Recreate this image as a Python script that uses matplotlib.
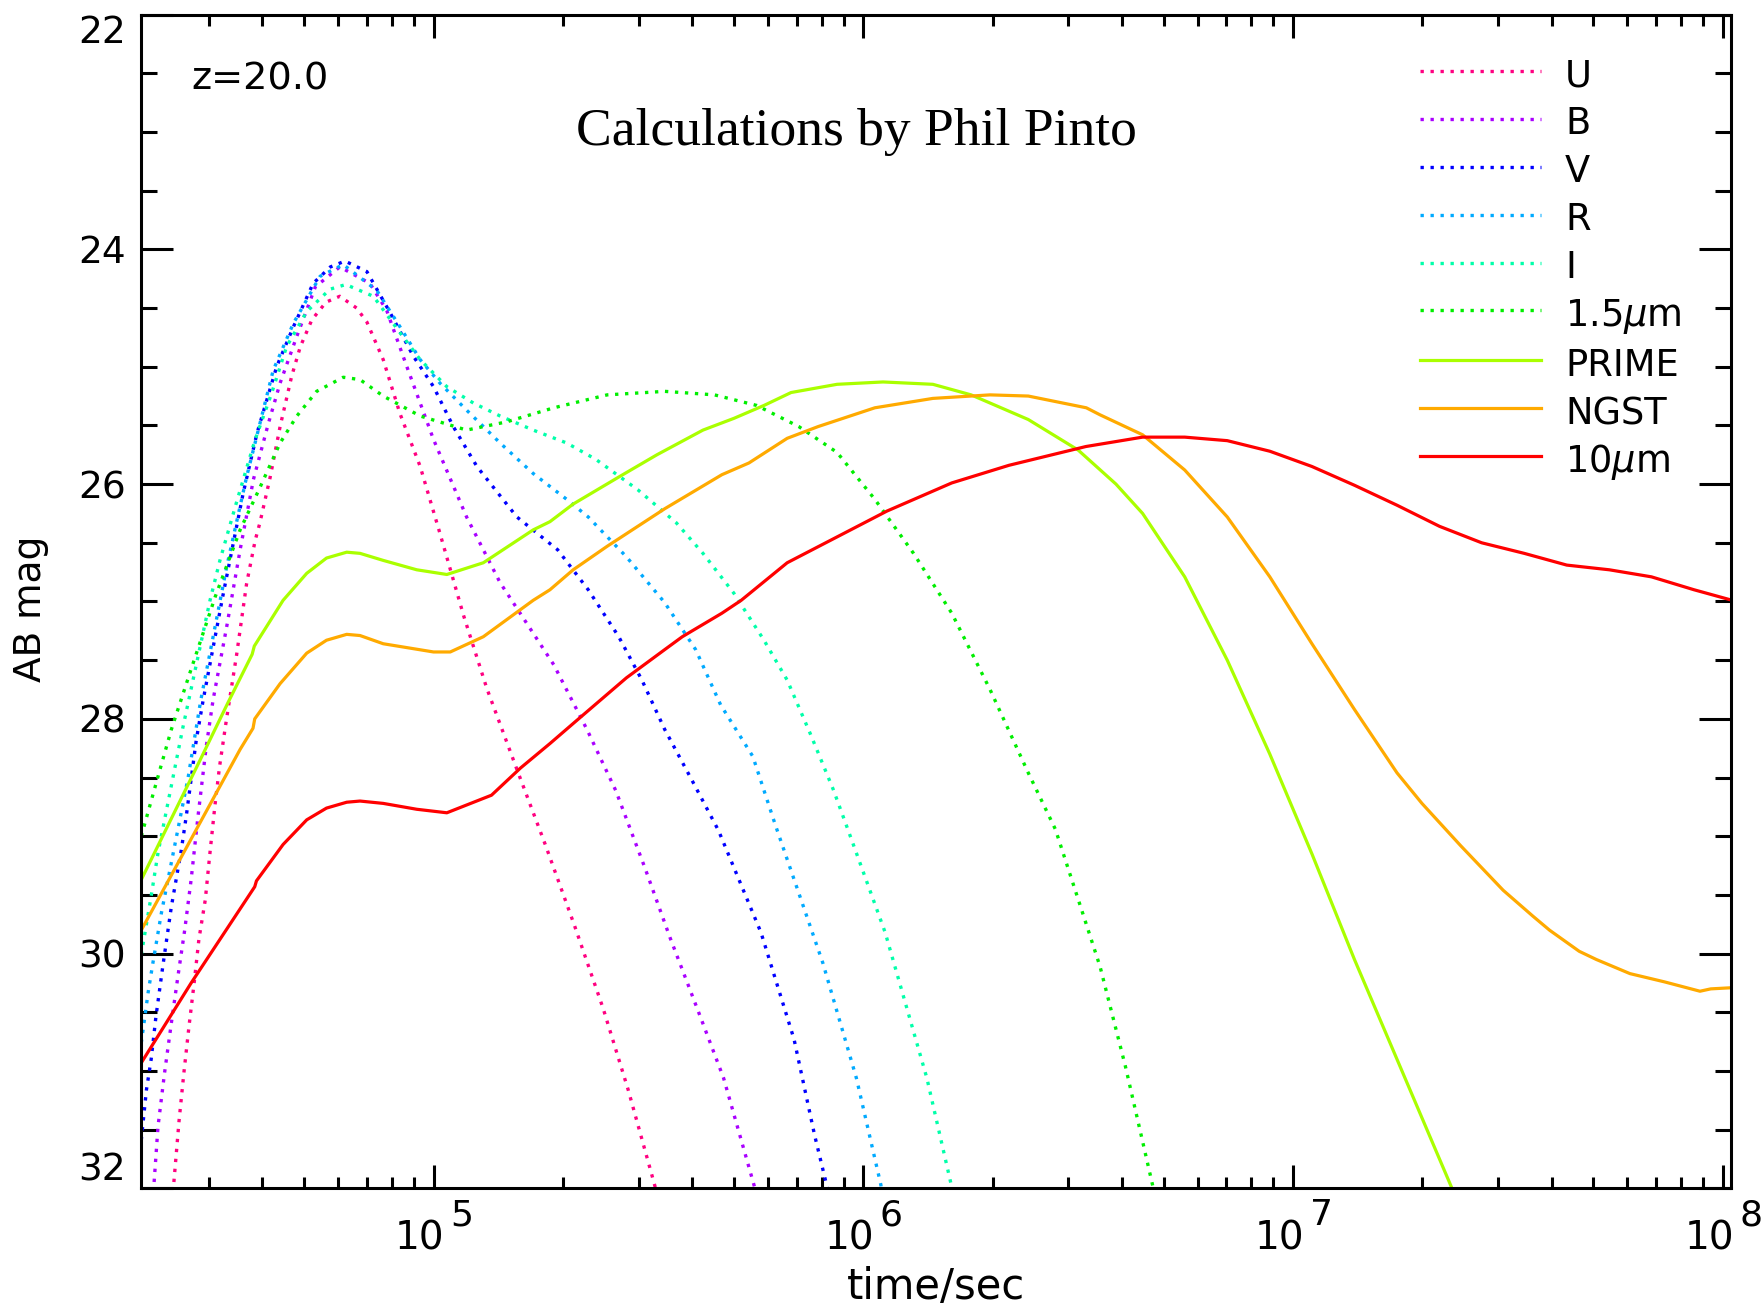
import numpy as np
import matplotlib
matplotlib.use("Agg")
import matplotlib.pyplot as plt
from matplotlib.ticker import LogLocator, MultipleLocator, NullFormatter

plt.rcParams["font.family"] = ["DejaVu Sans"]
plt.rcParams["mathtext.fontset"] = "dejavusans"

# light curves: log10(time/sec) and AB magnitude
U_LOGT = [4.390, 4.408, 4.419, 4.431, 4.443, 4.454, 4.469, 4.479, 4.491, 4.502, 4.518, 4.542, 4.565,
          4.585, 4.596, 4.620, 4.643, 4.670, 4.690, 4.717, 4.750, 4.782, 4.821, 4.845, 4.883, 4.922,
          4.969, 5.015, 5.070, 5.124, 5.193, 5.260, 5.328, 5.395, 5.453, 5.516, 5.530]
U_MAG = [32.2, 31.42, 31.02, 30.62, 30.25, 29.88, 29.54, 29.17, 28.75, 28.41, 28.01, 27.45, 26.85,
         26.48, 26.33, 25.94, 25.51, 25.08, 24.83, 24.60, 24.45, 24.40, 24.50, 24.62, 24.94, 25.40,
         25.85, 26.42, 27.12, 27.74, 28.42, 29.07, 29.76, 30.47, 31.16, 31.99, 32.2]

B_LOGT = [4.345, 4.359, 4.374, 4.390, 4.405, 4.421, 4.436, 4.452, 4.471, 4.487, 4.519, 4.550, 4.581,
          4.616, 4.643, 4.682, 4.725, 4.782, 4.852, 4.891, 4.938, 5.000, 5.077, 5.155, 5.198, 5.280,
          5.357, 5.424, 5.492, 5.550, 5.617, 5.675, 5.748, 5.760]
B_MAG = [32.2, 31.47, 31.02, 30.59, 30.20, 29.80, 29.37, 28.83, 28.24, 27.84, 27.21, 26.56, 25.96,
         25.48, 25.14, 24.74, 24.32, 24.15, 24.29, 24.52, 25.00, 25.62, 26.28, 26.84, 27.08, 27.54,
         28.09, 28.61, 29.27, 29.86, 30.50, 31.06, 32.00, 32.2]

V_LOGT = [4.320, 4.332, 4.343, 4.354, 4.370, 4.390, 4.413, 4.425, 4.448, 4.464, 4.511, 4.557, 4.589,
          4.635, 4.674, 4.720, 4.760, 4.794, 4.845, 4.899, 4.953, 5.000, 5.046, 5.101, 5.194, 5.289,
          5.360, 5.431, 5.485, 5.538, 5.601, 5.663, 5.762, 5.839, 5.887, 5.916, 5.925]
V_MAG = [31.59, 31.16, 30.90, 30.54, 30.11, 29.60, 29.12, 28.82, 28.18, 27.84, 26.93, 26.08, 25.57,
         25.00, 24.66, 24.29, 24.15, 24.10, 24.19, 24.54, 24.91, 25.17, 25.51, 25.85, 26.28, 26.56,
         26.90, 27.30, 27.67, 28.09, 28.52, 28.95, 29.82, 30.73, 31.55, 31.99, 32.2]

R_LOGT = [4.320, 4.336, 4.347, 4.367, 4.429, 4.458, 4.519, 4.565, 4.627, 4.674, 4.736, 4.790, 4.868,
          4.922, 4.969, 5.015, 5.077, 5.155, 5.232, 5.310, 5.360, 5.449, 5.538, 5.610, 5.668, 5.743,
          5.796, 5.906, 5.984, 6.041, 6.048]
R_MAG = [30.76, 30.33, 30.08, 29.65, 28.50, 27.85, 26.70, 25.94, 25.03, 24.63, 24.23, 24.13, 24.35,
         24.66, 24.94, 25.14, 25.37, 25.65, 25.91, 26.13, 26.28, 26.62, 27.01, 27.41, 27.88, 28.32,
         28.91, 30.08, 31.06, 31.97, 32.2]

I_LOGT = [4.320, 4.343, 4.359, 4.417, 4.480, 4.503, 4.542, 4.585, 4.623, 4.658, 4.705, 4.759, 4.796,
          4.860, 4.922, 4.969, 5.031, 5.093, 5.155, 5.232, 5.310, 5.378, 5.476, 5.565, 5.627, 5.699,
          5.769, 5.823, 5.876, 5.930, 5.960, 6.051, 6.148, 6.206, 6.215]
I_MAG = [30.01, 29.51, 29.14, 28.07, 26.99, 26.65, 26.15, 25.62, 25.23, 24.83, 24.53, 24.34, 24.30,
         24.40, 24.71, 24.94, 25.17, 25.31, 25.42, 25.54, 25.65, 25.79, 26.05, 26.33, 26.59, 26.93,
         27.33, 27.67, 28.12, 28.60, 28.90, 29.82, 31.06, 31.99, 32.2]

H_LOGT = [4.320, 4.359, 4.390, 4.433, 4.492, 4.550, 4.596, 4.643, 4.682, 4.728, 4.790, 4.829, 4.883,
          4.969, 5.077, 5.170, 5.280, 5.404, 5.538, 5.654, 5.752, 5.850, 5.939, 6.027, 6.117, 6.206,
          6.295, 6.384, 6.447, 6.551, 6.610, 6.675, 6.685]
H_MAG = [29.00, 28.49, 28.09, 27.61, 26.96, 26.39, 26.03, 25.65, 25.42, 25.21, 25.09, 25.11, 25.25,
         25.42, 25.54, 25.47, 25.35, 25.24, 25.21, 25.24, 25.33, 25.51, 25.73, 26.13, 26.59, 27.10,
         27.75, 28.46, 28.94, 30.11, 30.96, 32.00, 32.2]

PRIME_LOGT = [4.320, 4.457, 4.522, 4.578, 4.583, 4.650, 4.705, 4.751, 4.798, 4.829, 4.883, 4.961,
              5.031, 5.116, 5.232, 5.271, 5.325, 5.431, 5.520, 5.627, 5.699, 5.769, 5.832, 5.939,
              6.046, 6.162, 6.251, 6.384, 6.500, 6.588, 6.650, 6.748, 6.847, 6.946, 7.044, 7.143,
              7.242, 7.370, 7.390]
PRIME_MAG = [29.37, 28.35, 27.86, 27.45, 27.38, 26.99, 26.76, 26.63, 26.58, 26.59, 26.65, 26.73,
             26.77, 26.67, 26.39, 26.32, 26.17, 25.94, 25.75, 25.54, 25.44, 25.33, 25.22, 25.15,
             25.13, 25.15, 25.24, 25.45, 25.71, 26.00, 26.25, 26.79, 27.50, 28.30, 29.15, 30.05,
             30.90, 32.00, 32.2]

NGST_LOGT = [4.320, 4.550, 4.580, 4.584, 4.643, 4.705, 4.751, 4.798, 4.829, 4.883, 5.000, 5.039,
             5.116, 5.232, 5.271, 5.325, 5.404, 5.538, 5.671, 5.734, 5.823, 5.895, 6.027, 6.162,
             6.295, 6.384, 6.519, 6.551, 6.650, 6.748, 6.847, 6.946, 7.044, 7.143, 7.242, 7.300,
             7.390, 7.489, 7.558, 7.597, 7.666, 7.706, 7.784, 7.864, 7.947, 7.972, 8.022]
NGST_MAG = [29.80, 28.26, 28.08, 28.00, 27.70, 27.44, 27.33, 27.28, 27.29, 27.36, 27.43, 27.43,
            27.30, 26.99, 26.90, 26.73, 26.53, 26.21, 25.92, 25.82, 25.61, 25.51, 25.35, 25.27,
            25.24, 25.25, 25.35, 25.41, 25.58, 25.88, 26.28, 26.79, 27.36, 27.92, 28.46, 28.72,
            29.08, 29.46, 29.68, 29.80, 29.98, 30.05, 30.17, 30.24, 30.32, 30.30, 30.29]

MIR_LOGT = [4.320, 4.436, 4.584, 4.588, 4.650, 4.705, 4.751, 4.798, 4.829, 4.883, 4.961, 5.031,
            5.135, 5.202, 5.271, 5.328, 5.449, 5.538, 5.579, 5.671, 5.716, 5.823, 5.939, 6.055,
            6.206, 6.339, 6.518, 6.650, 6.748, 6.847, 6.946, 7.044, 7.143, 7.242, 7.341, 7.439,
            7.538, 7.637, 7.736, 7.834, 7.933, 8.022]
MIR_MAG = [30.93, 30.25, 29.43, 29.38, 29.07, 28.86, 28.76, 28.71, 28.70, 28.72, 28.77, 28.80,
           28.65, 28.42, 28.21, 28.03, 27.65, 27.41, 27.30, 27.10, 26.99, 26.67, 26.45, 26.23,
           25.99, 25.84, 25.68, 25.60, 25.60, 25.63, 25.72, 25.85, 26.01, 26.18, 26.36, 26.50,
           26.59, 26.69, 26.73, 26.79, 26.90, 26.99]

LABELS = ["U", "B", "V", "R", "I", r"1.5$\mu$m", "PRIME", "NGST", r"10$\mu$m"]
COLORS = ["#ff0080", "#aa00ff", "#0000ff", "#00aaff", "#00ffaa", "#00ee00", "#aaff00", "#ffaa00", "#ff0000"]
DOTTED = (0, (1, 2.0))
STYLES = [DOTTED] * 6 + ["-"] * 3
WIDTHS = [2.4] * 6 + [2.3] * 3

XTICKS = [1e5, 1e6, 1e7, 1e8]
XTICK_EXP = ["5", "6", "7", "8"]
YTICKS = [22, 24, 26, 28, 30, 32]

curves = [(U_LOGT, U_MAG), (B_LOGT, B_MAG), (V_LOGT, V_MAG), (R_LOGT, R_MAG), (I_LOGT, I_MAG),
          (H_LOGT, H_MAG), (PRIME_LOGT, PRIME_MAG), (NGST_LOGT, NGST_MAG), (MIR_LOGT, MIR_MAG)]

fig = plt.figure(figsize=(17.65, 13.09), dpi=100)
ax = fig.add_axes([0.0798, 0.0921, 0.9009, 0.8968])

for (logt, mag), label, color, ls, lw in zip(curves, LABELS, COLORS, STYLES, WIDTHS):
    ax.plot(10 ** np.array(logt), mag, color=color, lw=lw, linestyle=ls, label=label)

ax.set_xscale("log")
ax.set_xlim(10 ** 4.319, 10 ** 8.019)
ax.set_ylim(32, 22)
ax.set_xticks(XTICKS, [""] * len(XTICKS))
ax.xaxis.set_minor_locator(LogLocator(base=10, subs=np.arange(2, 10)))
ax.xaxis.set_minor_formatter(NullFormatter())
ax.set_yticks(YTICKS)
ax.yaxis.set_minor_locator(MultipleLocator(0.5))

ax.tick_params(which="both", direction="in", top=True, right=True, width=2.2, labelsize=27)
ax.tick_params(axis="x", which="major", length=16.5)
ax.tick_params(axis="x", which="minor", length=8)
ax.tick_params(axis="y", which="major", length=23, pad=11)
ax.tick_params(axis="y", which="minor", length=11.5)
for s in ax.spines.values():
    s.set_linewidth(2.2)

# IDL-style decade labels: full-size "10" with a nearly full-size raised exponent
for v, e in zip(XTICKS, XTICK_EXP):
    ax.annotate("10", xy=(v, 0), xycoords=("data", "axes fraction"), xytext=(8, -22.5),
                textcoords="offset points", ha="right", va="top", fontsize=28, annotation_clip=False)
    ax.annotate(e, xy=(v, 0), xycoords=("data", "axes fraction"), xytext=(12, -7),
                textcoords="offset points", ha="left", va="top", fontsize=26, annotation_clip=False)

# keep end labels inside the frame, as in the original
ylabels = ax.get_yticklabels()
ylabels[0].set_va("top")
ylabels[-1].set_va("bottom")

ax.set_xlabel("time/sec", fontsize=30)
ax.xaxis.set_label_coords(0.5, -0.066)
ax.set_ylabel("AB mag", fontsize=27)
ax.yaxis.set_label_coords(-0.058, 0.494)

ax.text(0.0316, 0.945, "z=20.0", transform=ax.transAxes, fontsize=27.5, ha="left", va="center")
ax.text(0.4498, 0.8887, "Calculations by Phil Pinto", transform=ax.transAxes,
        fontsize=38.5, ha="center", va="baseline", family=["Liberation Serif", "DejaVu Serif"])

ax.legend(loc="upper left", bbox_to_anchor=(0.8045, 0.958), bbox_transform=fig.transFigure,
          frameon=False, fontsize=26.5, handlelength=3.29, handletextpad=0.65, handleheight=1.2,
          labelspacing=0.236, borderpad=0, borderaxespad=0)

fig.savefig("out.png", dpi=100)
